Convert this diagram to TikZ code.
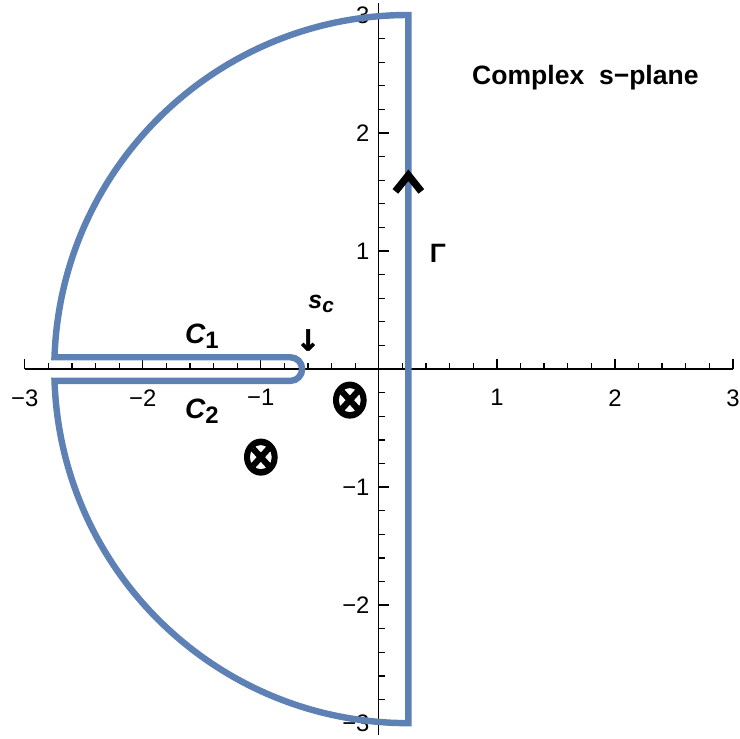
\documentclass[tikz,border=0pt]{standalone}
\usepackage{fontspec}
\setmainfont{Liberation Sans}
\newfontfamily\symfont[BoldFeatures={FakeBold=2}]{DejaVu Sans}
\usepackage{tikz}
\usetikzlibrary{positioning, calc}
\usepackage{xcolor}
\definecolor{contourblue}{RGB}{94,129,181}

\begin{document}
\begin{tikzpicture}[x=2cm, y=2cm,
    axisline/.style={line width=0.6pt},
    keyhole/.style={line width=3.1pt, color=contourblue},
    ticklabel/.style={inner sep=0pt, font=\fontsize{11.5}{12}\selectfont},
    boldlabel/.style={inner sep=0pt, font=\bfseries\fontsize{12.8}{13}\selectfont},
    pole/.style={inner sep=0pt, yscale=1.1, transform shape, font=\symfont\bfseries\fontsize{24}{24}\selectfont}]
    \useasboundingbox (-3.21,-3.127) rectangle (3.06,3.127);

    % Axes
    \draw[axisline] (-3,0) -- (3,0);
    \draw[axisline] (0,-3.1) -- (0,3.1);

    % Minor ticks
    \foreach \i in {-15,...,15} {
        \draw[axisline] ({\i/5},0) -- ({\i/5},0.05);
        \draw[axisline] (0,{\i/5}) -- (0.05,{\i/5});
    }

    % Major ticks and labels
    \foreach \x/\xlabel in {-3/−3, -2/−2, -1/−1, 1/1, 2/2, 3/3} {
        \draw[axisline] (\x,0) -- (\x,0.085);
        \node[ticklabel, anchor=north] (xlab\x) at (\x,-0.17) {\xlabel};
    }
    \foreach \y/\ylabel in {-3/−3, -2/−2, -1/−1, 1/1, 2/2, 3/3} {
        \draw[axisline] (0,\y) -- (0.085,\y);
        \node[ticklabel, anchor=east] (ylab\y) at (-0.076,\y) {\ylabel};
    }

    % Contour with the cut
    \draw[keyhole] (0.25,-1) -- (0.25,3)
        arc[start angle=90, end angle=178.09, radius=3]
        -- (-0.75,0.1) arc[start angle=90, end angle=-90, radius=0.1]
        -- (-2.748,-0.1) arc[start angle=181.91, end angle=270, radius=3]
        -- cycle;

    % Direction on Gamma
    \draw[line width=3.5pt, line join=miter] (0.14,1.505) -- (0.25,1.642) -- (0.36,1.505);

    % Labels
    \node[boldlabel, anchor=base] (title) at (1.75,2.407) {Complex\ \ s−plane};
    \node[boldlabel, anchor=base] (gamma) at (0.5,0.907) {Γ};
    \node[inner sep=0pt, anchor=base west, font=\bfseries\itshape\fontsize{13.5}{14}\selectfont]
        (c1) at (-1.644,0.22) {C\raisebox{-2.4pt}{\upshape\fontsize{11.5}{12}\selectfont 1}};
    \node[inner sep=0pt, anchor=base west, font=\bfseries\itshape\fontsize{13.5}{14}\selectfont]
        (c2) at (-1.644,-0.415) {C\raisebox{-2.4pt}{\upshape\fontsize{11.5}{12}\selectfont 2}};
    \node[inner sep=0pt, anchor=base west, font=\bfseries\itshape\fontsize{12}{12}\selectfont]
        (sc) at (-0.6,0.517) {s\raisebox{-2pt}{\fontsize{10}{10}\selectfont c}};
    \node[inner sep=0pt, font=\symfont\bfseries\fontsize{14}{14}\selectfont] (scarrow) at (-0.6,0.246) {↓};

    % Poles
    \node[pole] (pole1) at (-0.246,-0.263) {⊗};
    \node[pole] (pole2) at (-1.0,-0.746) {⊗};
\end{tikzpicture}
\end{document}
